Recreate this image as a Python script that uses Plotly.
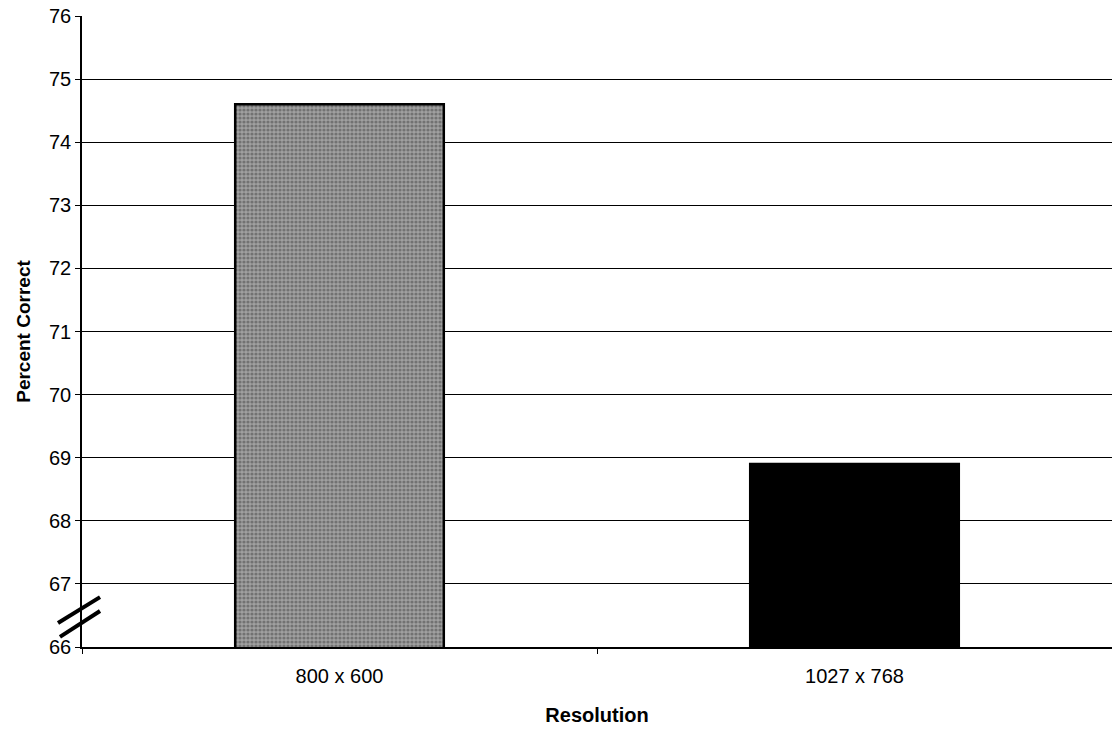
import plotly.graph_objects as go

categories = ["800 x 600", "1027 x 768"]
values = [74.6, 68.9]
y_ticks = [66, 67, 68, 69, 70, 71, 72, 73, 74, 75, 76]

FONT = "Liberation Sans, Arial, sans-serif"

fig = go.Figure()
fig.add_trace(go.Bar(
    x=categories,
    y=values,
    width=0.405,
    marker=dict(
        color=["#a0a0a0", "#000000"],
        line=dict(color="black", width=2.5),
        pattern=dict(shape=[".", ""], fgcolor="#262626", bgcolor="#e2e2e2",
                     size=4, solidity=0.5),
    ),
))

fig.update_layout(
    width=1112, height=729,
    margin=dict(l=82, r=0, t=16, b=82),
    plot_bgcolor="white", paper_bgcolor="white",
    showlegend=False,
    font=dict(family=FONT, color="black", size=20),
    xaxis=dict(
        range=[-0.5, 1.5],
        showline=True, linecolor="black", linewidth=1.5,
        ticks="outside", tickson="boundaries", ticklen=5, tickcolor="black",
        ticklabelstandoff=10,
        showgrid=False,
        tickfont=dict(size=20),
        title=dict(text="<b>Resolution</b>", font=dict(size=20), standoff=22),
    ),
    yaxis=dict(
        range=[66, 76],
        tickvals=y_ticks,
        showline=True, linecolor="black", linewidth=1.5,
        ticks="outside", ticklen=5, tickcolor="black",
        showgrid=True, gridcolor="black", gridwidth=1,
        zeroline=False,
        tickfont=dict(size=20),
        title=dict(text="<b>Percent Correct</b>", font=dict(size=19), standoff=13),
    ),
    shapes=[
        dict(type="line", xref="paper", yref="paper",
             x0=-0.0233, y0=0.038, x1=0.0175, y1=0.079,
             line=dict(color="black", width=4)),
        dict(type="line", xref="paper", yref="paper",
             x0=-0.0214, y0=0.016, x1=0.0175, y1=0.057,
             line=dict(color="black", width=4)),
    ],
)

fig.write_html("out.html")
